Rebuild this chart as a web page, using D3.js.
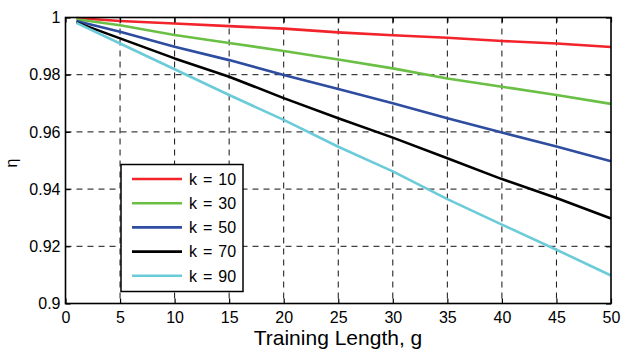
<!DOCTYPE html>
<html lang="en">
<head>
    <meta charset="UTF-8">
    <title>eta vs training length</title>
    <script src="https://d3js.org/d3.v7.min.js"></script>
    <style>
        body { margin: 0; background: #fff; }
        text { font-family: "Liberation Sans", Arial, sans-serif; }
    </style>
</head>
<body>
<svg id="chart"></svg>

<script>
    // training length g (read every 5 steps)
    var gValues = [1, 5, 10, 15, 20, 25, 30, 35, 40, 45, 50];

    // eta for each k
    var k10 = [0.9998, 0.9988, 0.9979, 0.9970, 0.9961, 0.9948, 0.9938, 0.9929, 0.9918, 0.9909, 0.9897];
    var k30 = [0.9994, 0.9973, 0.9939, 0.9911, 0.9883, 0.9853, 0.9822, 0.9787, 0.9758, 0.9729, 0.9698];
    var k50 = [0.9988, 0.9950, 0.9898, 0.9851, 0.9799, 0.9750, 0.9700, 0.9648, 0.9598, 0.9549, 0.9497];
    var k70 = [0.9983, 0.9927, 0.9857, 0.9793, 0.9718, 0.9648, 0.9580, 0.9508, 0.9435, 0.9369, 0.9297];
    var k90 = [0.9981, 0.9909, 0.9819, 0.9729, 0.9642, 0.9548, 0.9462, 0.9365, 0.9276, 0.9188, 0.9098];

    var seriesNames = ["k = 10", "k = 30", "k = 50", "k = 70", "k = 90"];
    var seriesColors = ["#f2232a", "#6abf45", "#2e4ca0", "#000000", "#6ccbd9"];

    var xTicks = [0, 5, 10, 15, 20, 25, 30, 35, 40, 45, 50];
    var yTicks = [0.9, 0.92, 0.94, 0.96, 0.98, 1];

    (function() {
        var width = 623;
        var height = 350;
        var left = 65.5, right = 611, top = 17.5, bottom = 303.5;

        var svg = d3.select("#chart")
            .attr("width", width)
            .attr("height", height);

        var x = d3.scaleLinear().domain([0, 50]).range([left, right]);
        var y = d3.scaleLinear().domain([0.9, 1]).range([bottom, top]);

        // dashed grid, not on the box edges
        var grid = svg.append("g").attr("stroke", "#111").attr("stroke-width", 1).attr("stroke-dasharray", "6,5");
        grid.selectAll(".vg")
            .data(xTicks.slice(1, -1))
            .enter().append("line")
            .attr("x1", function(d) { return x(d); })
            .attr("x2", function(d) { return x(d); })
            .attr("y1", top)
            .attr("y2", bottom);
        grid.selectAll(".hg")
            .data(yTicks.slice(1, -1))
            .enter().append("line")
            .attr("x1", left)
            .attr("x2", right)
            .attr("y1", function(d) { return y(d); })
            .attr("y2", function(d) { return y(d); });

        // curves
        var allSeries = [k10, k30, k50, k70, k90];
        var line = d3.line()
            .x(function(d, i) { return x(gValues[i]); })
            .y(function(d) { return y(d); });

        svg.append("g").selectAll("path")
            .data(allSeries)
            .enter().append("path")
            .attr("d", line)
            .attr("fill", "none")
            .attr("stroke", function(d, i) { return seriesColors[i]; })
            .attr("stroke-width", 2.6)
            .attr("stroke-linejoin", "round");

        // axes with ticks pointing inward
        var xAxis = svg.append("g")
            .attr("transform", "translate(0," + bottom + ")")
            .call(d3.axisBottom(x).tickValues(xTicks).tickSize(-5).tickPadding(10).tickFormat(d3.format("d")));
        var yAxis = svg.append("g")
            .attr("transform", "translate(" + left + ",0)")
            .call(d3.axisLeft(y).tickValues(yTicks).tickSize(-5).tickPadding(5).tickFormat(function(d) { return +d.toFixed(2); }));
        svg.append("g")
            .attr("transform", "translate(0," + top + ")")
            .call(d3.axisTop(x).tickValues(xTicks).tickSize(-5).tickFormat(""));
        svg.append("g")
            .attr("transform", "translate(" + right + ",0)")
            .call(d3.axisRight(y).tickValues(yTicks).tickSize(-5).tickFormat(""));

        svg.selectAll(".domain").remove();
        svg.selectAll(".tick line").attr("stroke", "#000").attr("stroke-width", 1.2);
        svg.selectAll(".tick text")
            .attr("fill", "#000")
            .style("font-size", "16px");
        xAxis.selectAll("text").attr("dy", "0.71em").attr("y", 8);

        // box
        svg.append("rect")
            .attr("x", left)
            .attr("y", top)
            .attr("width", right - left)
            .attr("height", bottom - top)
            .attr("fill", "none")
            .attr("stroke", "#000")
            .attr("stroke-width", 1.6);

        // axis labels (kept just inside the bottom edge)
        svg.append("text")
            .attr("x", 338)
            .attr("y", 345)
            .attr("text-anchor", "middle")
            .style("font-size", "21px")
            .text("Training Length, g");

        svg.append("text")
            .attr("transform", "translate(17,163) rotate(-90)")
            .attr("text-anchor", "middle")
            .style("font-size", "16px")
            .text("η");

        // legend
        var legend = svg.append("g");
        legend.append("rect")
            .attr("x", 121)
            .attr("y", 164.5)
            .attr("width", 122)
            .attr("height", 127)
            .attr("fill", "#fff")
            .attr("stroke", "#000")
            .attr("stroke-width", 1.5);

        var items = legend.selectAll(".item")
            .data(seriesNames)
            .enter().append("g")
            .attr("transform", function(d, i) { return "translate(0," + (179 + i * 24.2) + ")"; });
        items.append("line")
            .attr("x1", 132)
            .attr("x2", 182)
            .attr("stroke", function(d, i) { return seriesColors[i]; })
            .attr("stroke-width", 2.6);
        items.append("text")
            .attr("x", 189)
            .attr("dy", "0.36em")
            .style("font-size", "16px")
            .style("word-spacing", "1.5px")
            .text(function(d) { return d; });
    })();
</script>
</body>
</html>
